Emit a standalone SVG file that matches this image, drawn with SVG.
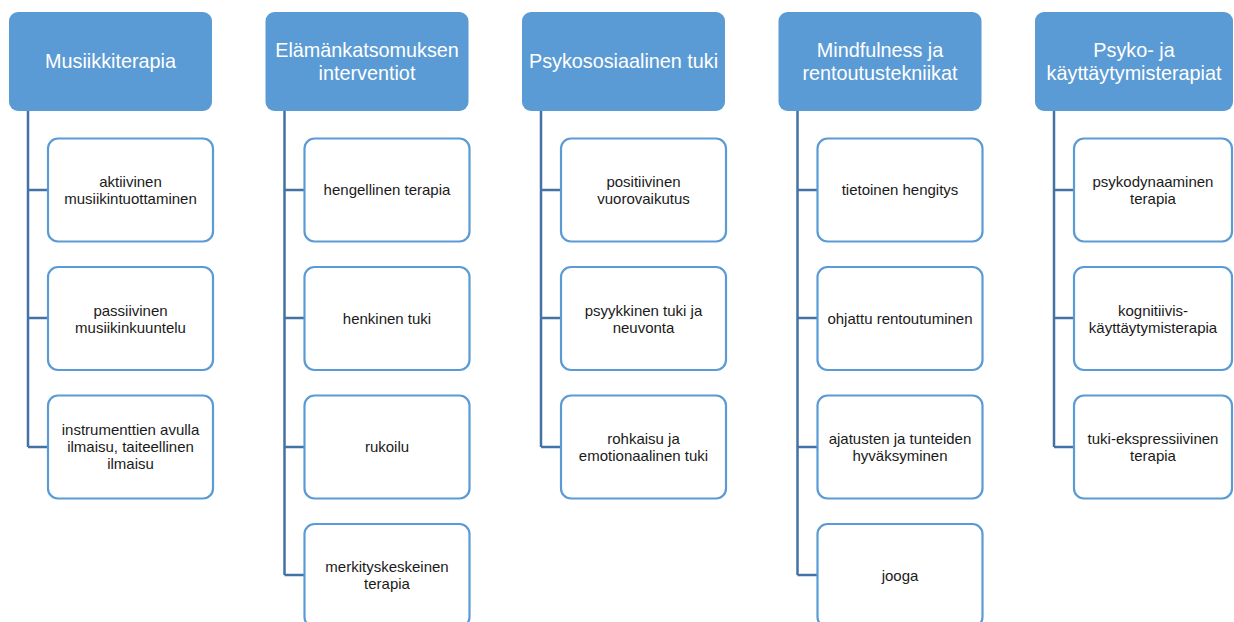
<svg xmlns="http://www.w3.org/2000/svg" width="1234" height="622" viewBox="0 0 1234 622">
<style>
.hd{fill:#5B9BD5;}
.ht{font-family:"Liberation Sans",Arial,sans-serif;font-size:19.8px;fill:#FFFFFF;text-anchor:middle;}
.bx{fill:#FFFFFF;stroke:#5B9BD5;stroke-width:2.2;}
.bt{font-family:"Liberation Sans",Arial,sans-serif;font-size:15px;fill:#1a1a1a;text-anchor:middle;}
.cn{fill:none;stroke:#4472A4;stroke-width:2.5;}
</style>
<rect width="1234" height="622" fill="#FFFFFF"/>
<g id="connectors">
<path class="cn" d="M28,111 V447 M28,190 H48 M28,318 H48 M28,447 H48"/>
<path class="cn" d="M284.5,111 V575 M284.5,190 H304.5 M284.5,318 H304.5 M284.5,447 H304.5 M284.5,575 H304.5"/>
<path class="cn" d="M541,111 V447 M541,190 H561 M541,318 H561 M541,447 H561"/>
<path class="cn" d="M797.5,111 V575 M797.5,190 H817.5 M797.5,318 H817.5 M797.5,447 H817.5 M797.5,575 H817.5"/>
<path class="cn" d="M1054,111 V447 M1054,190 H1074 M1054,318 H1074 M1054,447 H1074"/>
</g>
<g id="h1"><rect class="hd" x="9" y="12" width="203" height="99" rx="9"/><text class="ht" x="110.5" y="68">Musiikkiterapia</text></g>
<g id="h2"><rect class="hd" x="265.5" y="12" width="203" height="99" rx="9"/><text class="ht" x="367" y="57">Elämänkatsomuksen</text><text class="ht" x="367" y="80">interventiot</text></g>
<g id="h3"><rect class="hd" x="522" y="12" width="203" height="99" rx="9"/><text class="ht" x="623.5" y="68">Psykososiaalinen tuki</text></g>
<g id="h4"><rect class="hd" x="778.5" y="12" width="203" height="99" rx="9"/><text class="ht" x="880" y="57">Mindfulness ja</text><text class="ht" x="880" y="80">rentoutustekniikat</text></g>
<g id="h5"><rect class="hd" x="1035" y="12" width="198" height="99" rx="9"/><text class="ht" x="1134" y="57">Psyko- ja</text><text class="ht" x="1134" y="80">käyttäytymisterapiat</text></g>

<g id="c1a"><rect class="bx" x="48" y="138.5" width="165" height="103" rx="10"/><text class="bt" x="130.5" y="187">aktiivinen</text><text class="bt" x="130.5" y="204">musiikintuottaminen</text></g>
<g id="c1b"><rect class="bx" x="48" y="267" width="165" height="103" rx="10"/><text class="bt" x="130.5" y="315.5">passiivinen</text><text class="bt" x="130.5" y="332.5">musiikinkuuntelu</text></g>
<g id="c1c"><rect class="bx" x="48" y="395.5" width="165" height="103" rx="10"/><text class="bt" x="130.5" y="435">instrumenttien avulla</text><text class="bt" x="130.5" y="452">ilmaisu, taiteellinen</text><text class="bt" x="130.5" y="469">ilmaisu</text></g>

<g id="c2a"><rect class="bx" x="304.5" y="138.5" width="165" height="103" rx="10"/><text class="bt" x="387" y="195">hengellinen terapia</text></g>
<g id="c2b"><rect class="bx" x="304.5" y="267" width="165" height="103" rx="10"/><text class="bt" x="387" y="323.5">henkinen tuki</text></g>
<g id="c2c"><rect class="bx" x="304.5" y="395.5" width="165" height="103" rx="10"/><text class="bt" x="387" y="452">rukoilu</text></g>
<g id="c2d"><rect class="bx" x="304.5" y="524" width="165" height="103" rx="10"/><text class="bt" x="387" y="572">merkityskeskeinen</text><text class="bt" x="387" y="589">terapia</text></g>

<g id="c3a"><rect class="bx" x="561" y="138.5" width="165" height="103" rx="10"/><text class="bt" x="643.5" y="187">positiivinen</text><text class="bt" x="643.5" y="204">vuorovaikutus</text></g>
<g id="c3b"><rect class="bx" x="561" y="267" width="165" height="103" rx="10"/><text class="bt" x="643.5" y="315.5">psyykkinen tuki ja</text><text class="bt" x="643.5" y="332.5">neuvonta</text></g>
<g id="c3c"><rect class="bx" x="561" y="395.5" width="165" height="103" rx="10"/><text class="bt" x="643.5" y="443.5">rohkaisu ja</text><text class="bt" x="643.5" y="460.5">emotionaalinen tuki</text></g>

<g id="c4a"><rect class="bx" x="817.5" y="138.5" width="165" height="103" rx="10"/><text class="bt" x="900" y="195">tietoinen hengitys</text></g>
<g id="c4b"><rect class="bx" x="817.5" y="267" width="165" height="103" rx="10"/><text class="bt" x="900" y="323.5">ohjattu rentoutuminen</text></g>
<g id="c4c"><rect class="bx" x="817.5" y="395.5" width="165" height="103" rx="10"/><text class="bt" x="900" y="443.5">ajatusten ja tunteiden</text><text class="bt" x="900" y="460.5">hyväksyminen</text></g>
<g id="c4d"><rect class="bx" x="817.5" y="524" width="165" height="103" rx="10"/><text class="bt" x="900" y="580.5">jooga</text></g>

<g id="c5a"><rect class="bx" x="1074" y="138.5" width="158" height="103" rx="10"/><text class="bt" x="1153" y="187">psykodynaaminen</text><text class="bt" x="1153" y="204">terapia</text></g>
<g id="c5b"><rect class="bx" x="1074" y="267" width="158" height="103" rx="10"/><text class="bt" x="1153" y="315.5">kognitiivis-</text><text class="bt" x="1153" y="332.5">käyttäytymisterapia</text></g>
<g id="c5c"><rect class="bx" x="1074" y="395.5" width="158" height="103" rx="10"/><text class="bt" x="1153" y="443.5">tuki-ekspressiivinen</text><text class="bt" x="1153" y="460.5">terapia</text></g>
</svg>
